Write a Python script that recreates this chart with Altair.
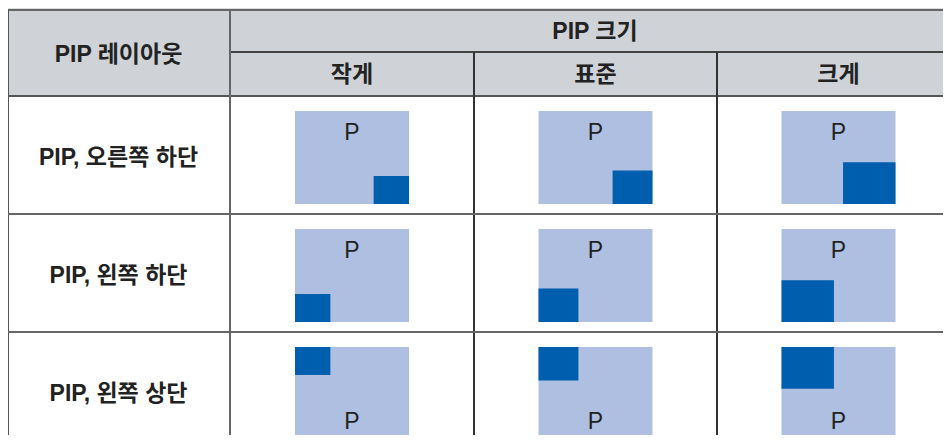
import altair as alt
import pandas as pd

# ---- content ----
size_labels = ["작게", "표준", "크게"]
layout_labels = ["PIP, 오른쪽 하단", "PIP, 왼쪽 하단", "PIP, 왼쪽 상단"]
header_left = "PIP 레이아웃"
header_top = "PIP 크기"
main_label = "P"
# PIP window size as % of main screen (width, height) per size column
pip_w_pct = [31, 35, 46]
pip_h_pct = [30, 36, 45]
# PIP corner per layout row
pip_side = ["right", "left", "left"]
pip_edge = ["bottom", "bottom", "top"]

# ---- layout (chart pixel units) ----
W, H = 935, 427
col_edges = [-1, 222, 466, 709, 952]
head_top, head_mid, head_bot = 2, 44, 88
row_h = 118
scr_w, scr_h, scr_off = 114, 93, 15

row_tops = [head_bot + i * row_h for i in range(len(layout_labels))]

screens, pips, ptext = [], [], []
for r, lab in enumerate(layout_labels):
    for c, s in enumerate(size_labels):
        cx = (col_edges[c + 1] + col_edges[c + 2]) / 2
        x0 = cx - scr_w / 2
        x1 = cx + scr_w / 2
        y0 = row_tops[r] + scr_off
        y1 = y0 + scr_h
        screens.append(dict(x=x0, x2=x1, y=y0, y2=y1))
        pw = scr_w * pip_w_pct[c] / 100
        ph = scr_h * pip_h_pct[c] / 100
        px0 = x1 - pw if pip_side[r] == "right" else x0
        py0 = y1 - ph if pip_edge[r] == "bottom" else y0
        pips.append(dict(x=px0, x2=px0 + pw, y=py0, y2=py0 + ph))
        ty = y0 + 29 if pip_edge[r] == "bottom" else min(y1 - 7, H - 6)
        ptext.append(dict(x=cx, y=ty, t=main_label))

xs = alt.Scale(domain=[0, W], nice=False, zero=False)
ys = alt.Scale(domain=[0, H], nice=False, zero=False, reverse=True)


def rects(df, color):
    return alt.Chart(pd.DataFrame(df)).mark_rect(color=color).encode(
        x=alt.X("x:Q", scale=xs, axis=None),
        x2="x2:Q",
        y=alt.Y("y:Q", scale=ys, axis=None),
        y2="y2:Q",
    )


header_bg = rects([dict(x=col_edges[0], x2=col_edges[-1], y=head_top, y2=head_bot)], "#cfd3d7")
scr_layer = rects(screens, "#aebfe1")
pip_layer = rects(pips, "#005eae")

p_layer = alt.Chart(pd.DataFrame(ptext)).mark_text(
    font="Liberation Sans", fontSize=23, color="#222222", baseline="alphabetic", align="center"
).encode(x=alt.X("x:Q", scale=xs, axis=None), y=alt.Y("y:Q", scale=ys, axis=None), text="t:N")

# grid lines
bottom = 442
lines = [
    dict(x=col_edges[0], x2=col_edges[-1], y=head_top, y2=head_top, c="#666666"),
    dict(x=col_edges[1], x2=col_edges[-1], y=head_mid, y2=head_mid, c="#444444"),
    dict(x=col_edges[0], x2=col_edges[-1], y=head_bot, y2=head_bot, c="#555555"),
    dict(x=0, x2=0, y=head_top, y2=bottom, c="#555555"),
    dict(x=col_edges[1], x2=col_edges[1], y=head_top, y2=bottom, c="#666666"),
    dict(x=col_edges[2], x2=col_edges[2], y=head_mid, y2=bottom, c="#333333"),
    dict(x=col_edges[3], x2=col_edges[3], y=head_mid, y2=bottom, c="#333333"),
]
for r in range(1, len(layout_labels)):
    lines.append(dict(x=col_edges[0], x2=col_edges[-1], y=row_tops[r], y2=row_tops[r], c="#666666"))

rule_layer = alt.Chart(pd.DataFrame(lines)).mark_rule(strokeWidth=2).encode(
    x=alt.X("x:Q", scale=xs, axis=None),
    x2="x2:Q",
    y=alt.Y("y:Q", scale=ys, axis=None),
    y2="y2:Q",
    color=alt.Color("c:N", scale=None),
)

# header and row texts
texts = [
    dict(x=(col_edges[0] + col_edges[1]) / 2, y=(head_top + head_bot) / 2 + 2, t=header_left),
    dict(x=(col_edges[1] + col_edges[-1]) / 2, y=(head_top + head_mid) / 2 + 1, t=header_top),
]
for c, s in enumerate(size_labels):
    texts.append(dict(x=(col_edges[c + 1] + col_edges[c + 2]) / 2, y=(head_mid + head_bot) / 2 + 1, t=s))
for r, lab in enumerate(layout_labels):
    texts.append(dict(x=(col_edges[0] + col_edges[1]) / 2, y=row_tops[r] + row_h / 2 + 3, t=lab))

text_layer = alt.Chart(pd.DataFrame(texts)).mark_text(
    font="Liberation Sans, Noto Sans CJK KR", fontSize=23, fontWeight="bold",
    color="#222222", baseline="middle", align="center"
).encode(x=alt.X("x:Q", scale=xs, axis=None), y=alt.Y("y:Q", scale=ys, axis=None), text="t:N")

chart = alt.layer(header_bg, scr_layer, pip_layer, p_layer, rule_layer, text_layer).properties(
    width=W, height=H, padding=0, autosize=alt.AutoSizeParams(type="none")
).configure_view(stroke=None).configure(background="white")

chart.save("out.html", embed_options={"renderer": "svg", "actions": False})
